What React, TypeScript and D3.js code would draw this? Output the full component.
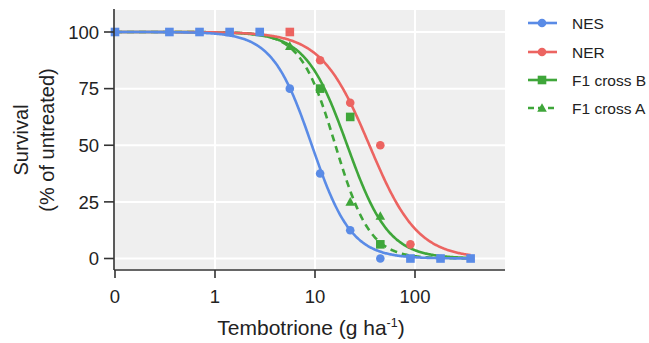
import React from "react";
import * as d3 from "d3";

// Doses (g ha-1); the untreated control "0" is plotted at 0.1
const doses = [0.1, 0.35, 0.7, 1.4, 2.8, 5.6, 11.25, 22.5, 45, 90, 180, 360];
const seriesNames = ["NES", "NER", "F1 cross B", "F1 cross A"];
const nesValues = [100, 100, 100, 100, 100, 75, 37.5, 12.5, 0, 0, 0, 0];
const nerValues = [100, 100, 100, 100, 100, 100, 87.5, 68.75, 50, 6.25, 0, 0];
const crossBValues = [100, 100, 100, 100, 100, 100, 75, 62.5, 6.25, 0, 0, 0];
const crossAValues = [100, 100, 100, 100, 100, 93.75, 75, 25, 18.75, 0, 0, 0];
// log-logistic fits: ED50 and slope
const ed50s = [9.3, 35, 21, 16];
const slopes = [2.2, 1.8, 2.1, 2.5];
const xTickValues = [0.1, 1, 10, 100];
const xTickLabels = ["0", "1", "10", "100"];
const yTickValues = [0, 25, 50, 75, 100];

const colors = ["#5a8be6", "#ec6461", "#3fa63a", "#3fa63a"];
const shapes = ["circle", "circle", "square", "triangle"];
const dashes = [null, null, null, "7,5"];

const W = 649;
const H = 343;
const FONT = "'Liberation Sans', Arial, Helvetica, sans-serif";

function Marker({ shape, x, y, color }: { shape: string; x: number; y: number; color: string }) {
  if (shape === "square") {
    return <rect x={x - 4.3} y={y - 4.3} width={8.6} height={8.6} fill={color} />;
  }
  if (shape === "triangle") {
    const s = 4.8;
    return (
      <path
        d={`M${x},${y - s}L${x + s},${y + s * 0.8}L${x - s},${y + s * 0.8}Z`}
        fill={color}
      />
    );
  }
  return <circle cx={x} cy={y} r={4.3} fill={color} />;
}

export default function App() {
  const x = d3.scaleLog().domain([0.1, Math.pow(10, 2.9)]).range([115, 505]);
  const y = d3.scaleLinear().domain([0, 100]).range([258.5, 32]);
  const plotTop = 10;
  const plotBottom = 269;
  const plotLeft = 114;
  const plotRight = 505;

  const allValues = [nesValues, nerValues, crossBValues, crossAValues];

  const curveDoses = d3.range(0, 401).map((i) => Math.pow(10, -1 + (i / 400) * (Math.log10(360) + 1)));

  const curves = allValues.map((_, si) => {
    const gen = d3
      .line<number>()
      .x((d) => x(d))
      .y((d) => y(100 / (1 + Math.pow(d / ed50s[si], slopes[si]))));
    return gen(curveDoses) || "";
  });

  // Markers: draw order bottom -> top: cross A, cross B, NER, NES
  const drawOrder = [3, 2, 1, 0];
  const markers: React.ReactNode[] = [];
  drawOrder.forEach((si) => {
    allValues[si].forEach((v, di) => {
      for (let k = 0; k < si; k++) {
        if (allValues[k][di] === v) return;
      }
      const shape = crossBValues[di] === v ? "square" : shapes[si];
      markers.push(
        <Marker key={`m${si}-${di}`} shape={shape} x={x(doses[di])} y={y(v)} color={colors[si]} />
      );
    });
  });

  const legendY = [23, 52, 80, 108];

  return (
    <svg width={W} height={H} style={{ position: "absolute", left: 0, top: 0, background: "#fff" }}>
      <rect x={plotLeft} y={plotTop} width={plotRight - plotLeft} height={plotBottom - plotTop} fill="#efefef" />
      {xTickValues.slice(1).map((t) => (
        <line key={`gx${t}`} x1={x(t)} x2={x(t)} y1={plotTop} y2={plotBottom} stroke="#fff" strokeWidth={2} />
      ))}
      {yTickValues.map((t) => (
        <line key={`gy${t}`} x1={plotLeft} x2={plotRight} y1={y(t)} y2={y(t)} stroke="#fff" strokeWidth={2} />
      ))}

      {curves
        .map((d, si) => (
          <path
            key={`c${si}`}
            d={d}
            fill="none"
            stroke={colors[si]}
            strokeWidth={2.6}
            strokeDasharray={dashes[si] || undefined}
          />
        ))
        .reverse()}

      {markers}

      {/* axes */}
      <line x1={plotLeft} x2={plotLeft} y1={9} y2={270} stroke="#333" strokeWidth={1.6} />
      <line x1={plotLeft} x2={plotRight} y1={270} y2={270} stroke="#333" strokeWidth={1.6} />
      {yTickValues.map((t) => (
        <g key={`yt${t}`}>
          <line x1={plotLeft - 10} x2={plotLeft} y1={y(t)} y2={y(t)} stroke="#333" strokeWidth={1.6} />
          <text x={99} y={y(t) + 6.8} textAnchor="end" fontFamily={FONT} fontSize={18.5} fill="#222">
            {t}
          </text>
        </g>
      ))}
      {xTickValues.map((t, i) => (
        <g key={`xt${t}`}>
          <line x1={x(t)} x2={x(t)} y1={270} y2={278} stroke="#333" strokeWidth={1.6} />
          <text x={x(t)} y={303} textAnchor="middle" fontFamily={FONT} fontSize={18.5} fill="#222">
            {xTickLabels[i]}
          </text>
        </g>
      ))}

      <text x={311} y={335} textAnchor="middle" fontFamily={FONT} fontSize={21} fill="#222">
        Tembotrione (g ha
        <tspan dy={-8} fontSize={12.5}>-1</tspan>
        <tspan dy={8}>)</tspan>
      </text>

      <text transform="translate(28,140) rotate(-90)" textAnchor="middle" fontFamily={FONT} fontSize={20} fill="#222">
        Survival
      </text>
      <text transform="translate(54,140) rotate(-90)" textAnchor="middle" fontFamily={FONT} fontSize={20} fill="#222">
        (% of untreated)
      </text>

      {/* legend */}
      {seriesNames.map((name, si) => (
        <g key={`lg${si}`}>
          <line
            x1={528}
            x2={557}
            y1={legendY[si]}
            y2={legendY[si]}
            stroke={colors[si]}
            strokeWidth={2.6}
            strokeDasharray={dashes[si] ? "6,4" : undefined}
          />
          <Marker shape={shapes[si]} x={542} y={legendY[si]} color={colors[si]} />
          <text x={572} y={legendY[si] + 5.5} fontFamily={FONT} fontSize={15.5} fill="#222">
            {name}
          </text>
        </g>
      ))}
    </svg>
  );
}
